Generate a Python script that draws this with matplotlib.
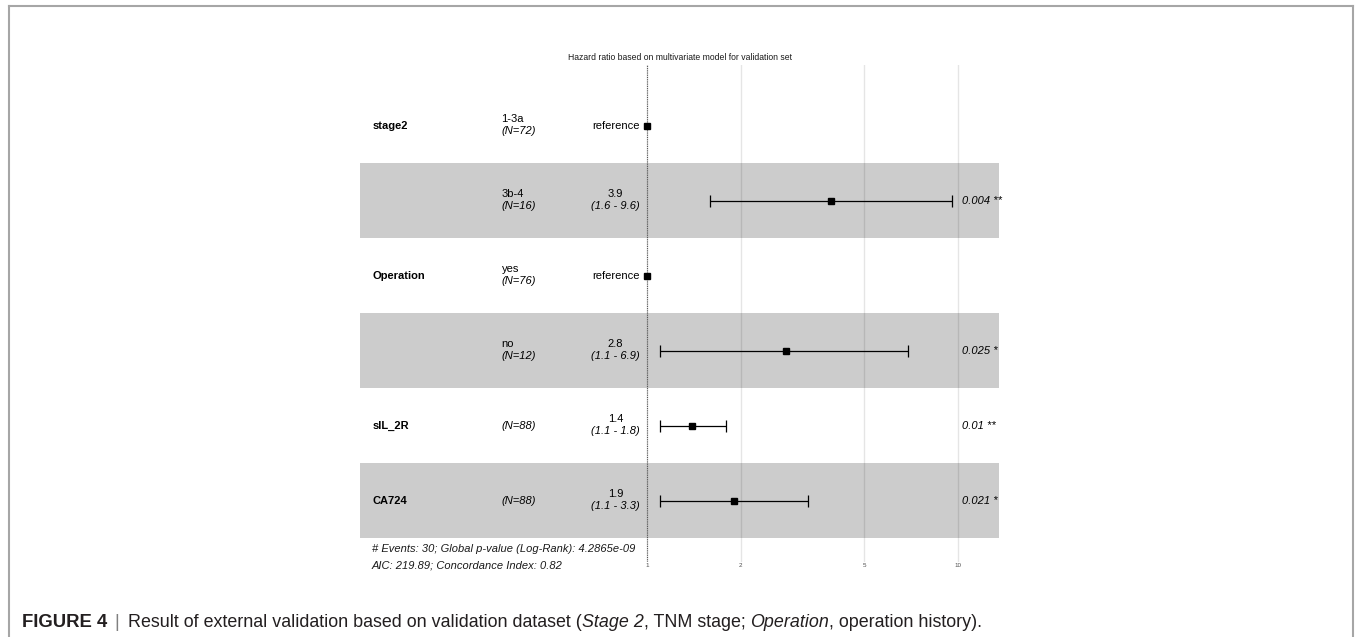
import numpy as np
import matplotlib
matplotlib.use('Agg')
import matplotlib.pyplot as plt
from matplotlib.lines import Line2D
from matplotlib.ticker import NullLocator, FixedLocator, FixedFormatter

plt.rcParams['font.family'] = ['Liberation Sans', 'DejaVu Sans']

# forest plot rows, top to bottom
variables = ['stage2', '', 'Operation', '', 'sIL_2R', 'CA724']
levels = ['1-3a', '3b-4', 'yes', 'no', '', '']
n_obs = [72, 16, 76, 12, 88, 88]
hr = [1.0, 3.9, 1.0, 2.8, 1.4, 1.9]
ci_low = [np.nan, 1.6, np.nan, 1.1, 1.1, 1.1]
ci_high = [np.nan, 9.6, np.nan, 6.9, 1.8, 3.3]
p_text = ['', '0.004 **', '', '0.025 *', '0.01 **', '0.021 *']
is_ref = [True, False, True, False, False, False]

x_ticks = [1, 2, 5, 10]
x_tick_labels = ['1', '2', '5', '10']

title = 'Hazard ratio based on multivariate model for validation set'
footer = ['# Events: 30; Global p-value (Log-Rank): 4.2865e-09',
          'AIC: 219.89; Concordance Index: 0.82']

W, H = 1355, 637
fig = plt.figure(figsize=(W / 100, H / 100), dpi=100)
renderer = fig.canvas.get_renderer()


def fx(px):
    return px / W


def fy(py):
    return 1 - py / H


# main forest panel
ax = fig.add_axes([fx(360), fy(562), fx(999) - fx(360), fy(65) - fy(562)])
ax.set_facecolor('none')
ax.set_xscale('log')
ax.set_xlim(0.1194, 13.55)
ax.set_ylim(5.82, -0.807)
for s in ax.spines.values():
    s.set_visible(False)

n_rows = len(hr)
rows = np.arange(n_rows)
for r in rows:
    if r % 2 == 1:
        ax.axhspan(r - 0.5, r + 0.5, color='#cccccc', zorder=0, lw=0)

ax.xaxis.set_major_locator(FixedLocator(x_ticks))
ax.xaxis.set_major_formatter(FixedFormatter(x_tick_labels))
ax.xaxis.set_minor_locator(NullLocator())
ax.set_yticks([])
ax.tick_params(axis='x', length=0, labelsize=4.5, labelcolor='#4d4d4d', pad=1)
ax.grid(axis='x', color='black', alpha=0.1, lw=1, zorder=1)
ax.axvline(1, color='#555555', lw=0.8, ls=(0, (1, 1)), zorder=2)

# estimates
hr_arr = np.array(hr)
lo = np.array(ci_low)
hi = np.array(ci_high)
has_ci = ~np.isnan(lo)
ax.errorbar(hr_arr[has_ci], rows[has_ci],
            xerr=[hr_arr[has_ci] - lo[has_ci], hi[has_ci] - hr_arr[has_ci]],
            fmt='none', ecolor='black', elinewidth=0.9, capsize=4.3, capthick=0.9, zorder=3)
ax.plot(hr_arr, rows, 's', color='black', ms=5, zorder=4)

# text columns
tr = ax.get_yaxis_transform()
x_name, x_level, x_est, x_p = 0.0203, 0.2215, 0.438, 0.942
fs = 8
up, down = 4.6, -3.9
for r in rows:
    if variables[r]:
        ax.text(x_name, r, variables[r], transform=tr, fontsize=fs,
                fontweight='bold', va='center', ha='left')
    n_lab = f'(N={n_obs[r]})'
    if levels[r]:
        ax.annotate(levels[r], xy=(x_level, r), xycoords=tr, xytext=(0, up),
                    textcoords='offset points', fontsize=fs, va='center', ha='left')
        ax.annotate(n_lab, xy=(x_level, r), xycoords=tr, xytext=(0, down),
                    textcoords='offset points', fontsize=fs, style='italic',
                    va='center', ha='left')
    else:
        ax.text(x_level, r, n_lab, transform=tr, fontsize=fs, style='italic',
                va='center', ha='left')
    if is_ref[r]:
        ax.text(x_est, r, 'reference', transform=tr, fontsize=fs, va='center', ha='right')
    else:
        ci_t = ax.annotate(f'({ci_low[r]:.1f} - {ci_high[r]:.1f})', xy=(x_est, r), xycoords=tr,
                           xytext=(0, down), textcoords='offset points', fontsize=fs,
                           style='italic', va='center', ha='right')
        bb = ci_t.get_window_extent(renderer)
        xc = ax.transAxes.inverted().transform(((bb.x0 + bb.x1) / 2, 0))[0]
        ax.annotate(f'{hr[r]:.1f}', xy=(xc, r), xycoords=tr, xytext=(0, up),
                    textcoords='offset points', fontsize=fs, va='center', ha='center')
    if p_text[r]:
        ax.text(x_p, r, p_text[r], transform=tr, fontsize=fs, style='italic',
                va='center', ha='left')

fig.text(fx(679.5), fy(57), title, fontsize=6.2, ha='center', va='center', color='#1a1a1a')
fig.text(fx(372), fy(549), footer[0], fontsize=8, style='italic', va='center', color='#1a1a1a')
fig.text(fx(372), fy(565), footer[1], fontsize=8, style='italic', va='center', color='#1a1a1a')

# frame around the figure
fc = '#a6a6a6'
fig.add_artist(Line2D([fx(9), fx(9)], [0, fy(6)], color=fc, lw=1.5))
fig.add_artist(Line2D([fx(9), fx(1353)], [fy(6), fy(6)], color=fc, lw=1.5))
fig.add_artist(Line2D([fx(1353), fx(1353)], [0, fy(6)], color=fc, lw=1.5))

# caption, written piece by piece on one baseline
cap_col = '#231f20'
fig.text(fx(22), fy(627), 'FIGURE 4', fontsize=13.3, fontweight='bold',
         color=cap_col, va='baseline', ha='left')
fig.text(fx(117), fy(627), '|', fontsize=12.9, color='#808080', va='baseline', ha='center')
pieces = [('Result of external validation based on validation dataset (', 'normal'),
          ('Stage 2', 'italic'),
          (', TNM stage; ', 'normal'),
          ('Operation', 'italic'),
          (', operation history).', 'normal')]
x_px = 128
for txt, sty in pieces:
    t = fig.text(fx(x_px), fy(627), txt, fontsize=12.9, style=sty,
                 color=cap_col, va='baseline', ha='left')
    x_px += t.get_window_extent(renderer).width

fig.savefig('out.png', dpi=100)
